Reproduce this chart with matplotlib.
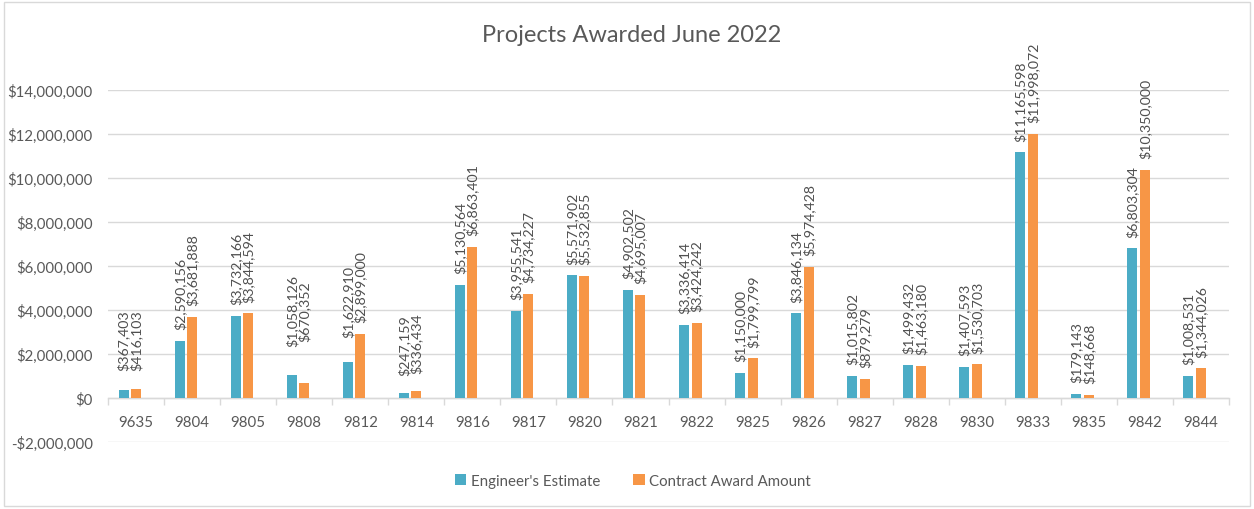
import matplotlib
matplotlib.use("Agg")
import matplotlib.pyplot as plt
from matplotlib.patches import Rectangle
from matplotlib.ticker import FuncFormatter, FixedLocator

plt.rcParams['font.family'] = ['Lato', 'DejaVu Sans']

projects = ["9635", "9804", "9805", "9808", "9812", "9814", "9816", "9817", "9820", "9821",
            "9822", "9825", "9826", "9827", "9828", "9830", "9833", "9835", "9842", "9844"]
engineers_estimate = [367403, 2590156, 3732166, 1058126, 1622910, 247159, 5130564, 3955541,
                      5571902, 4902502, 3336414, 1150000, 3846134, 1015802, 1499432, 1407593,
                      11165598, 179143, 6803304, 1008531]
contract_award = [416103, 3681888, 3844594, 670352, 2899000, 336434, 6863401, 4734227,
                  5532855, 4695007, 3424242, 1799799, 5974428, 879279, 1463180, 1530703,
                  11998072, 148668, 10350000, 1344026]
series_names = ["Engineer's Estimate", "Contract Award Amount"]
title = "Projects Awarded June 2022"

# extra label nudges (points) seen in the original layout
label_nudge = {(0, 0): 6, (0, 1): 5, (3, 0): 12, (3, 1): 22, (4, 0): 10, (5, 0): 4, (5, 1): 4}

TEXT = "#595959"
GRID = "#D9D9D9"
BLUE = "#4BACC6"
ORANGE = "#F79646"

fig = plt.figure(figsize=(12.54, 5.10), dpi=100)
ax = fig.add_axes([108 / 1254, (510 - 443) / 510, (1229 - 108) / 1254, (443 - 91) / 510])

n = len(projects)
x = list(range(n))
w = 0.178
step = 0.223
xb = [i - step for i in x]
xo = x

ax.bar(xb, engineers_estimate, width=w, color=BLUE, label=series_names[0], zorder=3)
ax.bar(xo, contract_award, width=w, color=ORANGE, label=series_names[1], zorder=3)

for s, (xs, vals) in enumerate([(xb, engineers_estimate), (xo, contract_award)]):
    for i, (xx, v) in enumerate(zip(xs, vals)):
        off = 8.5 + label_nudge.get((i, s), 0)
        ax.annotate(f"${v:,.0f}", xy=(xx, v), xytext=(0, off), textcoords="offset points",
                    rotation=90, ha="center", va="bottom", fontsize=10.2, color="#4F4F4F",
                    annotation_clip=False, zorder=4)

ax.set_xlim(-0.5, n - 0.5)
ax.set_ylim(-2_000_000, 14_000_000)
ax.set_yticks(range(-2_000_000, 14_000_001, 2_000_000))
ax.yaxis.set_major_formatter(FuncFormatter(lambda v, p: f"-${abs(v):,.0f}" if v < 0 else f"${v:,.0f}"))
ax.tick_params(axis="y", length=0, pad=11, labelsize=10.8, labelcolor=TEXT)
ax.grid(axis="y", color=GRID, linewidth=1, zorder=0)

for sp in ["top", "right", "left"]:
    ax.spines[sp].set_visible(False)
ax.spines["bottom"].set_position(("data", 0))
ax.spines["bottom"].set_color(GRID)
ax.spines["bottom"].set_linewidth(1)
ax.spines["bottom"].set_zorder(2)

ax.set_xticks(x)
ax.set_xticklabels(projects)
ax.tick_params(axis="x", which="major", length=0, pad=12, labelsize=10.8, labelcolor=TEXT)
ax.xaxis.set_minor_locator(FixedLocator([i - 0.5 for i in range(n + 1)]))
ax.tick_params(axis="x", which="minor", length=5, color=GRID, width=1, direction="out")

fig.text(632 / 1254, 1 - 36 / 510, title, ha="center", va="center", fontsize=17, color=TEXT)

leg = fig.legend(loc="center", bbox_to_anchor=(633 / 1254, 1 - 482 / 510), ncol=2, frameon=False,
                 fontsize=10.8, labelcolor=TEXT, handlelength=0.75, handleheight=0.75,
                 handletextpad=0.3, columnspacing=2.2)

fig.patches.append(Rectangle((4 / 1254, 3 / 510), 1246 / 1254, 504 / 510, transform=fig.transFigure,
                             fill=False, edgecolor=GRID, linewidth=1))

fig.savefig("out.png", dpi=100)
